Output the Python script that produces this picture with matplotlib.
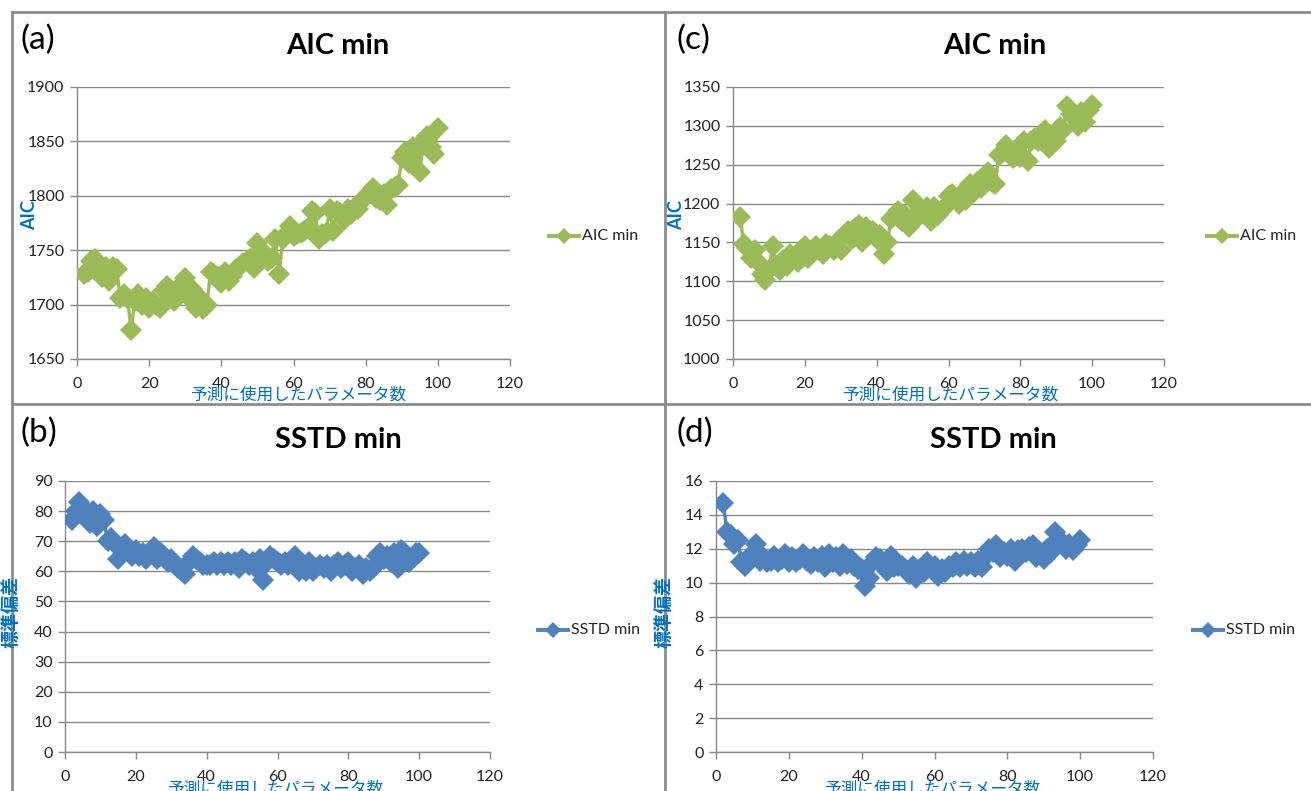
import numpy as np
import matplotlib
matplotlib.use("Agg")
import matplotlib.pyplot as plt
from matplotlib.lines import Line2D

plt.rcParams['font.family'] = ['Lato', 'Noto Sans CJK JP', 'DejaVu Sans']

# Number of parameters used for prediction
n_params = list(range(2, 101))

aic_a = [1728, 1730, 1740, 1742, 1737, 1725, 1735, 1722, 1735, 1733,
         1706, 1710, 1705, 1677, 1703, 1710, 1700, 1706, 1697, 1703,
         1700, 1697, 1713, 1717, 1708, 1703, 1715, 1712, 1724, 1706,
         1714, 1697, 1706, 1696, 1700, 1730, 1728, 1725, 1720, 1730,
         1722, 1726, 1733, 1735, 1738, 1740, 1742, 1734, 1757, 1750,
         1745, 1740, 1743, 1760, 1728, 1760, 1765, 1772, 1763, 1765,
         1766, 1768, 1770, 1786, 1784, 1760, 1765, 1766, 1788, 1768,
         1786, 1784, 1778, 1788, 1783, 1790, 1788, 1795, 1800, 1803,
         1807, 1798, 1796, 1802, 1792, 1806, 1808, 1810, 1835, 1840,
         1830, 1845, 1840, 1822, 1850, 1855, 1845, 1838, 1862]

sstd_b = [77, 80, 83, 81, 79, 76, 80, 75, 79, 77,
          70, 71, 69, 64, 68, 69, 67, 65, 67, 65,
          66, 64, 66, 68, 64, 66, 65, 63, 64, 62,
          61, 60, 59, 63, 65, 64, 63, 62, 62, 62,
          63, 62, 63, 62, 63, 62, 63, 61, 64, 63,
          62, 63, 61, 64, 57, 63, 65, 64, 63, 62,
          63, 62, 64, 65, 60, 62, 60, 63, 60, 61,
          62, 61, 62, 60, 62, 63, 61, 62, 63, 60,
          61, 62, 59, 61, 60, 61, 65, 66, 64, 65,
          63, 66, 61, 67, 66, 63, 64, 66, 66]

aic_c = [1183, 1148, 1143, 1130, 1140, 1125, 1110, 1102, 1115, 1145,
         1120, 1115, 1128, 1120, 1135, 1130, 1125, 1140, 1145, 1130,
         1140, 1145, 1140, 1135, 1148, 1145, 1140, 1150, 1140, 1160,
         1165, 1155, 1168, 1172, 1150, 1170, 1160, 1165, 1155, 1160,
         1135, 1150, 1180, 1185, 1190, 1178, 1185, 1170, 1205, 1180,
         1190, 1188, 1195, 1178, 1195, 1185, 1190, 1195, 1210, 1212,
         1205, 1200, 1215, 1205, 1225, 1215, 1228, 1220, 1232, 1240,
         1228, 1225, 1262, 1265, 1275, 1262, 1258, 1265, 1260, 1280,
         1255, 1280, 1285, 1280, 1290, 1295, 1272, 1285, 1280, 1298,
         1295, 1325, 1315, 1310, 1300, 1318, 1305, 1320, 1327]

sstd_d = [14.7, 13.0, 12.8, 12.3, 12.5, 11.2, 11.0, 11.5, 11.5, 12.3,
          11.3, 11.5, 11.2, 11.3, 11.6, 11.2, 11.4, 11.7, 11.2, 11.5,
          11.2, 11.4, 11.7, 11.3, 11.1, 11.5, 11.2, 11.6, 10.9, 11.7,
          11.2, 11.5, 11.0, 11.7, 11.1, 11.4, 11.0, 10.8, 10.8, 9.8,
          10.3, 11.2, 11.5, 11.4, 11.0, 10.7, 11.6, 10.9, 11.0, 11.0,
          10.8, 10.5, 11.0, 10.3, 10.8, 10.6, 11.2, 10.9, 11.0, 10.4,
          10.8, 10.6, 11.0, 10.9, 11.2, 10.9, 11.3, 11.0, 11.2, 10.9,
          11.3, 10.9, 11.5, 12.0, 11.8, 12.2, 11.5, 11.8, 11.6, 12.0,
          11.3, 11.9, 12.0, 11.8, 12.1, 12.2, 11.5, 11.8, 11.4, 12.0,
          11.8, 13.0, 12.6, 12.4, 12.0, 12.3, 11.9, 12.2, 12.5]

x_ticks = [0, 20, 40, 60, 80, 100, 120]
GREEN = '#9BBB59'
BLUE = '#4F81BD'
LABEL_BLUE = '#0070C0'
GRID = '#898989'

W, H = 1311, 791
fig = plt.figure(figsize=(W / 100, H / 100), dpi=100)


def fx(px):
    return px / W


def fy(py):
    return 1 - py / H


def panel(rect_px, xs, ys, color, yticks, ylabel, title, series, title_xy,
          tag, tag_xy, ylab_xy, xlab_xy, leg_xy):
    l, t, r, b = rect_px
    ax = fig.add_axes([fx(l), fy(b), fx(r - l), (b - t) / H])
    ax.plot(xs, ys, color=color, lw=2.4, marker='D', ms=11,
            markeredgewidth=0, zorder=3)
    ax.set_xlim(0, 120)
    ax.set_ylim(yticks[0], yticks[-1])
    ax.set_xticks(x_ticks)
    ax.set_yticks(yticks)
    ax.yaxis.grid(True, color=GRID, lw=1)
    ax.set_axisbelow(True)
    for s in ('top', 'right'):
        ax.spines[s].set_visible(False)
    for s in ('left', 'bottom'):
        ax.spines[s].set_color(GRID)
        ax.spines[s].set_linewidth(1)
    ax.tick_params(axis='both', colors=GRID, length=5, width=1,
                   labelcolor='#222222', labelsize=11.5)
    ax.tick_params(axis='x', pad=8)
    ax.tick_params(axis='y', pad=4)
    fig.text(fx(title_xy[0]), fy(title_xy[1]), title, fontsize=21,
             fontweight='bold', ha='center', va='center', color='black')
    fig.text(fx(tag_xy[0]), fy(tag_xy[1]), tag, fontsize=24,
             ha='left', va='center', color='black')
    fig.text(fx(ylab_xy[0]), fy(ylab_xy[1]), ylabel, fontsize=13,
             fontweight='bold', rotation=90, ha='center', va='center',
             color=LABEL_BLUE)
    fig.text(fx(xlab_xy[0]), fy(xlab_xy[1]), '予測に使用したパラメータ数',
             fontsize=12, ha='center', va='center', color=LABEL_BLUE,
             family=['Noto Sans CJK JP'])
    lx, ly = leg_xy
    fig.add_artist(Line2D([fx(lx), fx(lx + 30)], [fy(ly), fy(ly)],
                          color=color, lw=2.8, transform=fig.transFigure))
    fig.add_artist(Line2D([fx(lx + 15)], [fy(ly)], color=color, marker='D',
                          ms=8, markeredgewidth=0, transform=fig.transFigure))
    fig.text(fx(lx + 33), fy(ly), series, fontsize=11.5, ha='left',
             va='center', color='#222222')
    return ax


panel((77, 87, 510, 359), n_params, aic_a, GREEN,
      [1650, 1700, 1750, 1800, 1850, 1900], 'AIC', 'AIC min', 'AIC min',
      (338, 46), '(a)', (20, 40), (30, 215), (298, 395), (549, 236))
panel((65, 481, 490, 752), n_params, sstd_b, BLUE,
      list(range(0, 91, 10)), '標準偏差', 'SSTD min', 'SSTD min',
      (338, 440), '(b)', (20, 433), (11, 612), (275, 789), (538, 630))
panel((733, 87, 1164, 359), n_params, aic_c, GREEN,
      [1000, 1050, 1100, 1150, 1200, 1250, 1300, 1350], 'AIC', 'AIC min',
      'AIC min', (995, 46), '(c)', (677, 40), (677, 215), (950, 395),
      (1207, 236))
panel((716, 481, 1153, 752), n_params, sstd_d, BLUE,
      list(range(0, 17, 2)), '標準偏差', 'SSTD min', 'SSTD min',
      (993, 440), '(d)', (677, 433), (664, 612), (932, 789), (1193, 630))

# Panel frames
frame = dict(color='#8C8C8C', lw=2, transform=fig.transFigure)
for (x0, y0, x1, y1) in [(12, 12, 1311, 12), (12, 12, 12, 791),
                         (665, 12, 665, 791), (12, 404, 1311, 404)]:
    fig.add_artist(Line2D([fx(x0), fx(x1)], [fy(y0), fy(y1)], **frame))

fig.savefig('out.png', dpi=100)
